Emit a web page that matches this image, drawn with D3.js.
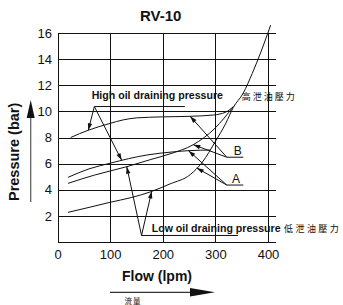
<!DOCTYPE html>
<html>
<head>
<meta charset="utf-8">
<title>RV-10</title>
<script src="https://cdn.jsdelivr.net/npm/d3@7"></script>
<style>
	body, html {
		margin: 0;
		padding: 0;
		background: #fff;
	}
	svg text {
		font-family: "Liberation Sans", Arial, sans-serif;
		fill: #111;
	}
	.cjk {
		font-family: "Noto Sans CJK TC", "Noto Sans CJK SC", sans-serif;
	}
</style>
</head>
<body>
<svg id="Chart" width="343" height="305"></svg>
<script>

	// axis ticks
	var flowTicks = [0, 100, 200, 300, 400];
	var pressureTicks = [0, 2, 4, 6, 8, 10, 12, 14, 16];

	// B - high oil draining pressure
	var bHighFlow = [25, 58, 100, 125, 150, 200, 250, 296, 320, 334];
	var bHighPres = [8.0, 8.55, 9.08, 9.35, 9.5, 9.58, 9.62, 9.72, 9.95, 10.36];

	// A - high oil draining pressure
	var aHighFlow = [20, 60, 100, 135, 170, 220, 252, 290];
	var aHighPres = [4.95, 5.6, 6.03, 6.38, 6.66, 6.9, 7.0, 7.04];

	// B - low oil draining pressure
	var bLowFlow = [20, 70, 132, 176, 214, 258, 299, 334];
	var bLowPres = [4.49, 5.12, 5.77, 6.3, 6.75, 7.45, 8.7, 10.36];

	// A - low oil draining pressure (runs up to the top)
	var aLowFlow = [20, 60, 100, 140, 176, 214, 252, 275, 300, 320, 334, 353, 370, 388, 405];
	var aLowPres = [2.27, 2.65, 3.04, 3.4, 3.83, 4.45, 5.15, 6.1, 7.7, 9.1, 10.3, 11.4, 12.9, 14.7, 16.6];

	var svg = d3.select("#Chart");

	var x = d3.scaleLinear().domain([0, 400]).range([57.5, 268]);
	var y = d3.scaleLinear().domain([0, 16]).range([242, 33]);
	var xEnd = 415; // horizontal grid runs a bit past 400

	// title
	svg.append("text")
		.attr("x", x(200) - 2)
		.attr("y", 21)
		.attr("text-anchor", "middle")
		.attr("font-size", 15)
		.attr("font-weight", "bold")
		.text("RV-10");

	// horizontal grid + pressure labels
	var yAxis = d3.axisLeft(y)
		.tickValues(pressureTicks)
		.tickSize(-(x(xEnd) - x(0)))
		.tickPadding(5.5)
		.tickFormat(function(d) { return d === 0 ? "" : d; });

	var gy = svg.append("g")
		.attr("transform", "translate(" + x(0) + ",0)")
		.call(yAxis);
	gy.select(".domain").remove();
	gy.attr("font-family", null).attr("font-size", 13);
	gy.selectAll("line").attr("stroke", "#111").attr("shape-rendering", "crispEdges");
	gy.selectAll("text").attr("fill", "#111");

	// vertical grid + flow labels
	var xAxis = d3.axisBottom(x)
		.tickValues(flowTicks)
		.tickSize(-(y(0) - y(16)))
		.tickPadding(8);

	var gx = svg.append("g")
		.attr("transform", "translate(0," + y(0) + ")")
		.call(xAxis);
	gx.select(".domain").remove();
	gx.attr("font-family", null).attr("font-size", 13);
	gx.selectAll("line").attr("stroke", "#111").attr("shape-rendering", "crispEdges");
	gx.selectAll("text").attr("fill", "#111");

	// curves
	var line = d3.line()
		.x(function(d) { return x(d[0]); })
		.y(function(d) { return y(d[1]); })
		.curve(d3.curveMonotoneX);

	var curves = {
		bHigh: d3.zip(bHighFlow, bHighPres),
		aHigh: d3.zip(aHighFlow, aHighPres),
		bLow: d3.zip(bLowFlow, bLowPres),
		aLow: d3.zip(aLowFlow, aLowPres)
	};

	Object.keys(curves).forEach(function(k) {
		svg.append("path")
			.datum(curves[k])
			.attr("d", line)
			.attr("fill", "none")
			.attr("stroke", "#111")
			.attr("stroke-width", 1);
	});

	// pressure on a curve at a given flow (straight between read points)
	function presAt(pts, f) {
		for (var i = 1; i < pts.length; i++) {
			if (f <= pts[i][0]) {
				var t = (f - pts[i-1][0]) / (pts[i][0] - pts[i-1][0]);
				return pts[i-1][1] + t * (pts[i][1] - pts[i-1][1]);
			}
		}
		return pts[pts.length - 1][1];
	}

	// leader with an arrow head at the curve
	function arrow(from, curveKey, f) {
		var x1 = x(from[0]), y1 = y(from[1]);
		var x2 = x(f), y2 = y(presAt(curves[curveKey], f));
		var a = Math.atan2(y2 - y1, x2 - x1),
			len = 7, hw = 2.2;
		svg.append("line")
			.attr("x1", x1).attr("y1", y1)
			.attr("x2", x2).attr("y2", y2)
			.attr("stroke", "#111").attr("stroke-width", 1);
		var bx = x2 - len * Math.cos(a), by = y2 - len * Math.sin(a);
		svg.append("path")
			.attr("d", "M" + x2 + "," + y2 +
				"L" + (bx - hw * Math.sin(a)) + "," + (by + hw * Math.cos(a)) +
				"L" + (bx + hw * Math.sin(a)) + "," + (by - hw * Math.cos(a)) + "Z")
			.attr("fill", "#111");
	}

	function underline(from, toFlow) {
		svg.append("line")
			.attr("x1", x(from[0])).attr("y1", y(from[1]))
			.attr("x2", x(toFlow)).attr("y2", y(from[1]))
			.attr("stroke", "#111").attr("stroke-width", 1);
	}

	// High oil draining pressure
	var highPt = [70, 10.37];
	underline(highPt, 242);
	arrow(highPt, "bHigh", 58.5);
	arrow(highPt, "aHigh", 122);
	svg.append("text")
		.attr("x", x(65)).attr("y", y(10.95))
		.attr("font-size", 10.6).attr("font-weight", "bold")
		.text("High oil draining pressure");
	svg.append("text")
		.attr("class", "cjk")
		.attr("x", x(350)).attr("y", y(10.87))
		.attr("font-size", 9).attr("letter-spacing", 2)
		.text("高泄油壓力");

	// Low oil draining pressure
	var lowPt = [159.7, 0.5];
	underline(lowPt, 343);
	arrow(lowPt, "bLow", 131.6);
	arrow(lowPt, "aLow", 179);
	svg.append("text")
		.attr("x", x(179)).attr("y", y(0.73))
		.attr("font-size", 10.6).attr("font-weight", "bold")
		.text("Low oil draining pressure");
	svg.append("text")
		.attr("class", "cjk")
		.attr("x", x(430.6)).attr("y", y(0.73))
		.attr("font-size", 9).attr("letter-spacing", 2.4)
		.text("低泄油壓力");

	// B and A
	var bPt = [321.7, 6.49];
	underline(bPt, 353);
	arrow(bPt, "bHigh", 252);
	arrow(bPt, "bLow", 258);
	svg.append("text")
		.attr("x", x(335)).attr("y", y(6.66))
		.attr("font-size", 12)
		.text("B");

	var aPt = [321.7, 4.36];
	underline(aPt, 353);
	arrow(aPt, "aHigh", 249);
	arrow(aPt, "aLow", 264.6);
	svg.append("text")
		.attr("x", x(331.6)).attr("y", y(4.54))
		.attr("font-size", 12)
		.text("A");

	// y axis title with arrow
	svg.append("line")
		.attr("x1", 30.7).attr("y1", 116)
		.attr("x2", 30.7).attr("y2", 202)
		.attr("stroke", "#555").attr("stroke-width", 1.2);
	svg.append("path")
		.attr("d", "M30.7,100L34.7,118L26.7,118Z")
		.attr("fill", "#111");
	svg.append("text")
		.attr("transform", "translate(19," + y(6.9) + ") rotate(-90)")
		.attr("text-anchor", "middle")
		.attr("font-size", 14.5).attr("font-weight", "bold")
		.text("Pressure (bar)");

	// x axis title with arrow
	svg.append("text")
		.attr("x", 157).attr("y", 280.5)
		.attr("text-anchor", "middle")
		.attr("font-size", 14).attr("font-weight", "bold")
		.text("Flow (lpm)");
	svg.append("line")
		.attr("x1", 110).attr("y1", 292.3)
		.attr("x2", 192).attr("y2", 292.3)
		.attr("stroke", "#333").attr("stroke-width", 1.2);
	svg.append("path")
		.attr("d", "M215,292.3L190,288L190,296.6Z")
		.attr("fill", "#111");
	svg.append("text")
		.attr("class", "cjk")
		.attr("x", 133).attr("y", 303.5)
		.attr("text-anchor", "middle")
		.attr("font-size", 7.5).attr("letter-spacing", 1)
		.text("流量");

</script>
</body>
</html>
